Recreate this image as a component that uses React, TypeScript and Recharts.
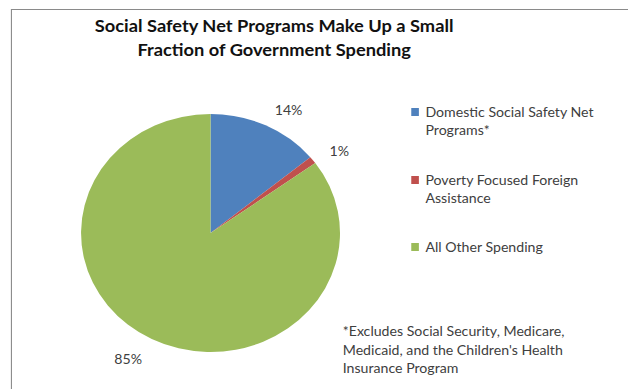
import React from 'react';
import { PieChart, Pie, Cell, Legend } from 'recharts';

const categories = [
  'Domestic Social Safety Net Programs*',
  'Poverty Focused Foreign Assistance',
  'All Other Spending',
];
const shares = [14, 1, 85];
const colors = ['#4F81BD', '#C0504D', '#9BBB59'];
const titleLines = [
  'Social Safety Net Programs Make Up a Small',
  'Fraction of Government Spending',
];
const footnoteLines = [
  "*Excludes Social Security, Medicare,",
  "Medicaid, and the Children's Health",
  'Insurance Program',
];

const data = categories.map((name, i) => ({ name, value: shares[i] }));

const SX = 1.088;
const FONT = 'Lato, "Open Sans", sans-serif';
const TEXT = '#404040';

const RADIAN = Math.PI / 180;
const renderLabel = (props: any) => {
  const { cx, cy, midAngle, outerRadius, value } = props;
  const r = outerRadius + 19.5;
  const x = cx + r * Math.cos(-midAngle * RADIAN);
  const y = cy + r * Math.sin(-midAngle * RADIAN) + 3;
  return (
    <text
      x={x}
      y={y}
      fill={TEXT}
      fontSize={13}
      fontFamily={FONT}
      textAnchor={x > cx ? 'start' : 'end'}
      dominantBaseline="central"
    >
      {`${value}%`}
    </text>
  );
};

const LegendContent = (props: any) => {
  const payload = [...(props.payload || [])].sort(
    (a: any, b: any) => categories.indexOf(a.value) - categories.indexOf(b.value)
  );
  return (
    <div style={{ fontFamily: FONT, fontSize: 13, color: TEXT, lineHeight: '18px' }}>
      {payload.map((p: any, i: number) => (
        <div
          key={i}
          style={{ position: 'relative', paddingLeft: 13, width: 182, marginBottom: i === 0 ? 32 : 31 }}
        >
          <span
            style={{
              position: 'absolute',
              left: 0,
              top: 5,
              width: 7.4,
              height: 8,
              background: p.color,
            }}
          />
          {p.value}
        </div>
      ))}
    </div>
  );
};

export default function App() {
  return (
    <div
      style={{
        position: 'absolute',
        left: 0,
        top: 0,
        width: 628,
        height: 389,
        overflow: 'hidden',
        background: '#fff',
      }}
    >
      <div
        style={{
          position: 'relative',
          width: 577,
          height: 389,
          transform: `scaleX(${SX})`,
          transformOrigin: '0 0',
          fontFamily: FONT,
        }}
      >
        <div
          style={{
            position: 'absolute',
            left: 10,
            top: 9,
            width: 700,
            height: 500,
            border: '1px solid #8a8a8a',
          }}
        />
        <div
          style={{
            position: 'absolute',
            left: 0,
            top: 14,
            width: 504,
            textAlign: 'center',
            fontWeight: 700,
            fontSize: 16.8,
            lineHeight: '23.5px',
            color: '#111',
          }}
        >
          {titleLines.map((t, i) => (
            <div key={i}>{t}</div>
          ))}
        </div>
        <div style={{ position: 'absolute', left: 0, top: 0 }}>
          <PieChart width={577} height={389} margin={{ top: 0, right: 0, bottom: 0, left: 0 }}>
            <Pie
              data={data}
              dataKey="value"
              nameKey="name"
              cx={193.5}
              cy={233}
              outerRadius={119}
              startAngle={90}
              endAngle={-270}
              stroke="none"
              label={renderLabel}
              labelLine={false}
              isAnimationActive={false}
            >
              {data.map((d, i) => (
                <Cell key={d.name} fill={colors[i]} />
              ))}
            </Pie>
            <Legend
              content={<LegendContent />}
              wrapperStyle={{ position: 'absolute', left: 378, top: 103, width: 199 }}
            />
          </PieChart>
        </div>
        <div
          style={{
            position: 'absolute',
            left: 315,
            top: 322,
            fontSize: 13,
            lineHeight: '18.5px',
            color: TEXT,
            whiteSpace: 'nowrap',
          }}
        >
          {footnoteLines.map((t, i) => (
            <div key={i}>{t}</div>
          ))}
        </div>
      </div>
    </div>
  );
}
